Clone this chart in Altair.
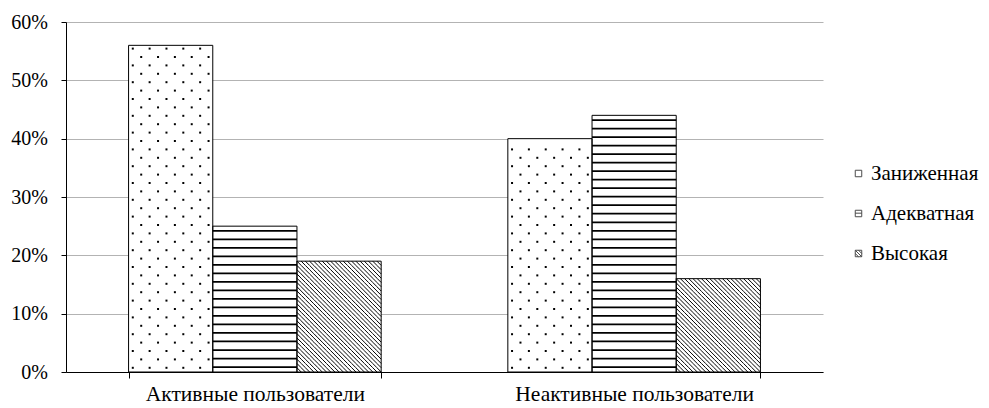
import altair as alt
import pandas as pd

groups = ["Активные пользователи", "Неактивные пользователи"]
levels = ["Заниженная", "Адекватная", "Высокая"]
active = [0.56, 0.25, 0.19]
inactive = [0.40, 0.44, 0.16]

rows = []
for g, vals in zip(groups, [active, inactive]):
    for i, (l, v) in enumerate(zip(levels, vals)):
        rows.append(dict(group=g, level=l, idx=i, value=v))
df = pd.DataFrame(rows)

# ---- pattern fill helpers (style only, derived from the values above) ----
LINE_STEP, LINE_START, LINE_W = 0.0146, 0.007, 0.003
DOT_COLS, DOT_ROW = 10, 0.0144
HATCH_COLS, HATCH_DY = 20, 0.0072

lines, dots, hatch = [], [], []
for r in rows:
    v, i, g = r["value"], r["idx"], r["group"]
    if r["level"] == levels[1]:
        y = LINE_START
        while y + LINE_W < v - 0.004:
            lines.append(dict(group=g, level=r["level"], y=y, y2=y + LINE_W))
            y += LINE_STEP
    elif r["level"] == levels[0]:
        y, k = DOT_ROW / 2, 0
        while y < v - 0.004:
            for c in range(DOT_COLS):
                if (c + k) % 2 == 0:
                    dots.append(dict(group=g, off=(i + (c + 0.5) / DOT_COLS) / 3, y=y))
            y += DOT_ROW
            k += 1
    else:
        n = max(1, round(v / HATCH_DY))
        dy = v / n
        for k in range(n):
            for j in range(HATCH_COLS):
                hatch.append(dict(group=g, off=(i + (j + 0.5) / HATCH_COLS) / 3,
                                  y=dy * (k + 0.5)))

lines_df = pd.DataFrame(lines)
dots_df = pd.DataFrame(dots)
hatch_df = pd.DataFrame(hatch)

FONT = "Liberation Serif, Times New Roman, serif"
FS = 20
FS_TXT = 21.5
FS_LEG = 21

xscale = alt.Scale(domain=groups, paddingInner=0.334, paddingOuter=0.165)
yscale = alt.Scale(domain=[0, 0.6], nice=False)
xaxis = alt.Axis(title=None, labelAngle=0, tickBand="extent", tickSize=6,
                 labelPadding=5, domainColor="black", tickColor="black", labelLimit=0,
                 labelFont=FONT, labelFontSize=FS_TXT, labelColor="black", grid=False)
yaxis = alt.Axis(title=None, values=[0, 0.1, 0.2, 0.3, 0.4, 0.5, 0.6], format=".0%",
                 tickSize=5, labelPadding=13.5, domainColor="black", tickColor="black",
                 grid=True, gridColor="#b3b3b3", gridWidth=1,
                 labelFont=FONT, labelFontSize=FS, labelColor="black")

X = alt.X("group:N", scale=xscale, axis=xaxis, sort=groups)
offset_nom = alt.XOffset("level:N", scale=alt.Scale(domain=levels, paddingInner=0, paddingOuter=0),
                         sort=levels)
offset_q = alt.XOffset("off:Q", scale=alt.Scale(domain=[0, 1], nice=False, zero=False))

shape_paths = [
    "M-1,-1H1V1H-1Z",
    "M-1,-1H1V1H-1ZM-1,-0.1H1",
    "M-1,-1H1V1H-1ZM-1,-1L1,1M-1,0L0,1M0,-1L1,0",
]

legend_layer = alt.Chart(df).transform_calculate(value="0.02").mark_point(
    filled=False, color="black", size=36, strokeWidth=1).encode(
    x=X,
    y=alt.Y("value:Q", scale=yscale, axis=yaxis),
    shape=alt.Shape("level:N", sort=levels,
                    scale=alt.Scale(domain=levels, range=shape_paths),
                    legend=alt.Legend(title=None, orient="none", legendX=782, legendY=141,
                                      labelFont=FONT, labelFontSize=FS_LEG, labelColor="black",
                                      labelLimit=0, symbolSize=42,
                                      labelOffset=2, rowPadding=18, symbolStrokeWidth=1,
                                      symbolStrokeColor="black", symbolFillColor="white")),
)

bars = alt.Chart(df).mark_bar(fill="white", stroke=None).encode(
    x=X, xOffset=offset_nom,
    y=alt.Y("value:Q", scale=yscale, axis=yaxis),
)

line_layer = alt.Chart(lines_df).mark_bar(fill="black", stroke=None).encode(
    x=X, xOffset=offset_nom,
    y=alt.Y("y:Q", scale=yscale, axis=yaxis), y2="y2:Q",
)

dot_layer = alt.Chart(dots_df).mark_square(size=4, color="black", opacity=1).encode(
    x=X, xOffset=offset_q,
    y=alt.Y("y:Q", scale=yscale, axis=yaxis),
)

hatch_layer = alt.Chart(hatch_df).mark_point(shape="M-1,-1L1,1", size=17.8, color="black",
                                              filled=False, strokeWidth=1, opacity=1).encode(
    x=X, xOffset=offset_q,
    y=alt.Y("y:Q", scale=yscale, axis=yaxis),
)

outline = alt.Chart(df).mark_bar(fill=None, fillOpacity=0, stroke="black", strokeWidth=1).encode(
    x=X, xOffset=offset_nom,
    y=alt.Y("value:Q", scale=yscale, axis=yaxis),
)

chart = alt.layer(legend_layer, bars, line_layer, dot_layer, hatch_layer, outline).resolve_scale(
    xOffset="independent"
).properties(
    width=757, height=350,
    autosize=alt.AutoSizeParams(type="none"),
    padding={"left": 58, "top": 14, "right": 158, "bottom": 34},
).configure(font=FONT).configure_view(stroke=None)

chart.save("out.html", embed_options={"renderer": "svg", "actions": False})
